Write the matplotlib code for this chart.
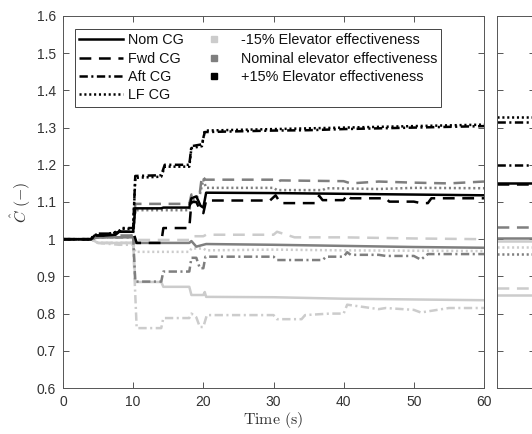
import matplotlib
matplotlib.use("Agg")
import matplotlib.pyplot as plt
from matplotlib.lines import Line2D

plt.rcParams['font.family'] = ['Liberation Sans', 'DejaVu Sans']
plt.rcParams['mathtext.fontset'] = 'cm'
plt.rcParams['lines.scale_dashes'] = False

# ---------------- data ----------------
# +15% elevator effectiveness (black)
t_nom_p = [0, 4, 4.5, 6, 7.5, 8, 10, 10.3, 14, 14.3, 18, 18.3, 19, 19.6, 20, 20.4, 30, 40, 50, 60]
c_nom_p = [1.0, 1.0, 1.01, 1.01, 1.012, 1.02, 1.02, 1.083, 1.083, 1.085, 1.085, 1.11, 1.115, 1.09, 1.085, 1.125, 1.124, 1.122, 1.12, 1.118]

t_fwd_p = [0, 4, 4.5, 7, 8, 10, 10.5, 14, 14.3, 18, 18.3, 19, 19.5, 20, 20.4, 29.5, 30.3, 31, 36, 36.5, 37, 40, 40.5, 41, 46, 46.5, 50, 51, 52, 52.5, 60]
c_fwd_p = [1.0, 1.0, 1.015, 1.015, 1.02, 1.02, 0.99, 0.99, 1.03, 1.03, 1.1, 1.1, 1.08, 1.07, 1.104, 1.104, 1.118, 1.097, 1.097, 1.117, 1.105, 1.105, 1.12, 1.11, 1.11, 1.101, 1.101, 1.097, 1.097, 1.11, 1.11]

t_aft_p = [0, 4, 4.5, 6, 7, 8, 8.3, 10, 10.3, 14, 14.5, 18, 18.3, 19.8, 20.2, 25, 30, 35, 40, 45, 50, 55, 60]
c_aft_p = [1.0, 1.0, 1.01, 1.01, 1.015, 1.02, 1.03, 1.03, 1.17, 1.172, 1.2, 1.2, 1.25, 1.255, 1.288, 1.29, 1.292, 1.293, 1.296, 1.298, 1.3, 1.302, 1.304]

t_lf_p = [0, 4, 4.5, 6, 7, 8, 8.3, 10, 10.3, 14, 14.5, 18, 18.3, 19.8, 20.2, 25, 30, 35, 40, 45, 50, 55, 60]
c_lf_p = [1.0, 1.0, 1.012, 1.012, 1.017, 1.022, 1.028, 1.028, 1.165, 1.168, 1.195, 1.195, 1.245, 1.25, 1.292, 1.294, 1.296, 1.298, 1.3, 1.302, 1.304, 1.306, 1.308]

# Nominal elevator effectiveness (medium grey)
t_nom_n = [0, 4, 5, 8, 10, 10.3, 18, 18.3, 19, 20, 20.4, 30, 40, 50, 60]
c_nom_n = [1.0, 1.0, 1.005, 1.005, 1.005, 0.99, 0.99, 0.995, 0.98, 0.985, 0.987, 0.985, 0.982, 0.979, 0.977]

t_fwd_n = [0, 4, 5, 8, 10, 10.3, 18, 18.3, 19.5, 19.8, 20.3, 30, 30.5, 31, 40, 41, 45, 50, 55, 60]
c_fwd_n = [1.0, 1.0, 1.01, 1.01, 1.01, 1.095, 1.095, 1.12, 1.125, 1.17, 1.16, 1.16, 1.152, 1.158, 1.156, 1.15, 1.155, 1.152, 1.15, 1.155]

t_aft_n = [0, 4, 5, 8, 10, 10.3, 14, 14.3, 18, 18.3, 19, 19.5, 20, 20.3, 30, 30.5, 37, 37.5, 40, 40.5, 41, 45, 46, 50, 51, 52, 60]
c_aft_n = [1.0, 1.0, 1.005, 1.005, 1.005, 0.886, 0.886, 0.913, 0.913, 0.95, 0.95, 0.922, 0.922, 0.953, 0.953, 0.944, 0.944, 0.953, 0.953, 0.965, 0.958, 0.958, 0.955, 0.955, 0.945, 0.96, 0.96]

t_lf_n = [0, 4, 5, 8, 10, 10.3, 18, 18.3, 19.5, 20, 20.4, 30, 30.5, 37, 37.5, 45, 50, 60]
c_lf_n = [1.0, 1.0, 1.005, 1.005, 1.01, 1.078, 1.078, 1.1, 1.12, 1.16, 1.138, 1.138, 1.132, 1.132, 1.137, 1.135, 1.138, 1.137]

# -15% elevator effectiveness (light grey)
t_nom_m = [0, 4, 5, 8, 10, 10.3, 14, 14.3, 18, 18.3, 20, 20.2, 20.4, 30, 40, 50, 60]
c_nom_m = [1.0, 1.0, 0.99, 0.99, 0.99, 0.885, 0.885, 0.872, 0.872, 0.85, 0.85, 0.858, 0.845, 0.844, 0.84, 0.838, 0.836]

t_fwd_m = [0, 4, 5, 8, 10, 10.3, 18, 18.3, 20, 20.4, 30, 30.5, 33, 40, 50, 60]
c_fwd_m = [1.0, 1.0, 0.99, 0.99, 0.99, 0.998, 0.998, 1.008, 1.008, 1.012, 1.012, 1.02, 1.005, 1.005, 1.002, 1.0]

t_aft_m = [0, 4, 5, 8, 10, 10.5, 14, 14.3, 18, 18.3, 19, 19.5, 20, 20.5, 30, 30.5, 34, 34.5, 38, 40, 40.5, 45, 46, 50, 51, 55, 56, 60]
c_aft_m = [1.0, 1.0, 0.99, 0.985, 0.985, 0.761, 0.761, 0.788, 0.788, 0.8, 0.79, 0.764, 0.764, 0.796, 0.796, 0.785, 0.785, 0.796, 0.8, 0.8, 0.824, 0.812, 0.815, 0.81, 0.803, 0.815, 0.815, 0.815]

t_lf_m = [0, 4, 5, 8, 10, 10.3, 18, 18.3, 20, 20.4, 30, 40, 60]
c_lf_m = [1.0, 1.0, 0.99, 0.99, 0.99, 0.966, 0.966, 0.975, 0.975, 0.97, 0.972, 0.97, 0.968]

# right-hand (partially visible) panel levels
side_black = [1.328, 1.316, 1.20, 1.151, 1.149]
side_grey = [1.034, 1.003, 0.96]
side_light = [0.995, 0.98, 0.869, 0.85]

# ---------------- styles ----------------
C_P, C_N, C_M = '#000000', '#7f7f7f', '#cccccc'
DASH = (0, (8.5, 5.5))
DASHDOT = (0, (6, 2.5, 1.5, 2.5))
DOT = (0, (1.5, 2.0))
LW = 1.8

fig = plt.figure(figsize=(5.32, 4.34), dpi=100)
ax = fig.add_axes([63/532, 46/434, 421/532, 372/434])

series = [
    (t_nom_m, c_nom_m, C_M, '-'), (t_fwd_m, c_fwd_m, C_M, DASH),
    (t_aft_m, c_aft_m, C_M, DASHDOT), (t_lf_m, c_lf_m, C_M, DOT),
    (t_nom_n, c_nom_n, C_N, '-'), (t_fwd_n, c_fwd_n, C_N, DASH),
    (t_aft_n, c_aft_n, C_N, DASHDOT), (t_lf_n, c_lf_n, C_N, DOT),
    (t_nom_p, c_nom_p, C_P, '-'), (t_fwd_p, c_fwd_p, C_P, DASH),
    (t_aft_p, c_aft_p, C_P, DASHDOT), (t_lf_p, c_lf_p, C_P, DOT),
]
for t, c, col, ls in series:
    ax.plot(t, c, color=col, linestyle=ls, linewidth=LW)

ax.set_xlim(0, 60)
ax.set_ylim(0.6, 1.6)
ax.set_xticks(range(0, 61, 10))
ax.set_yticks([0.6, 0.7, 0.8, 0.9, 1.0, 1.1, 1.2, 1.3, 1.4, 1.5, 1.6])
ax.set_yticklabels(['0.6', '0.7', '0.8', '0.9', '1', '1.1', '1.2', '1.3', '1.4', '1.5', '1.6'])
SP = '#555555'
for s in ax.spines.values():
    s.set_color(SP)
    s.set_linewidth(0.7)
ax.tick_params(direction='in', length=4, width=0.7, color=SP, labelcolor='#333333',
               labelsize=10, top=True, right=True, pad=5)
ax.set_xlabel(r'$\mathrm{Time\ (s)}$', fontsize=11.5, color='#333333', labelpad=1)
ax.set_ylabel(r'$\hat{C}\ \mathrm{(-)}$', fontsize=11.5, color='#333333', labelpad=3)

handles = [
    Line2D([], [], color='k', lw=LW, ls='-'),
    Line2D([], [], color='k', lw=LW, ls=DASH),
    Line2D([], [], color='k', lw=LW, ls=DASHDOT),
    Line2D([], [], color='k', lw=LW, ls=DOT),
    Line2D([], [], color=C_M, marker='s', ls='none', markersize=5),
    Line2D([], [], color=C_N, marker='s', ls='none', markersize=5),
    Line2D([], [], color=C_P, marker='s', ls='none', markersize=5),
    Line2D([], [], color='none', ls='none'),
]
labels = ['Nom CG', 'Fwd CG', 'Aft CG', 'LF CG',
          '-15% Elevator effectiveness', 'Nominal elevator effectiveness',
          '+15% Elevator effectiveness', '']
leg = ax.legend(handles, labels, ncol=2, loc='upper left',
                bbox_to_anchor=(12/421, 1 - 13/372), borderaxespad=0,
                fontsize=10.4, handlelength=3.0, handletextpad=0.35,
                columnspacing=0.6, labelspacing=0.3, borderpad=0.3,
                fancybox=False, framealpha=1)
leg.get_frame().set_edgecolor('#444444')
leg.get_frame().set_linewidth(0.7)
for txt in leg.get_texts():
    txt.set_color('#111111')

# partially visible second panel
ax2 = fig.add_axes([497/532, 46/434, 38/532, 372/434])
ax2.set_xlim(0, 1)
ax2.set_ylim(0.6, 1.6)
styles_b = [DOT, DASHDOT, DASHDOT, '-', DASH]
for v, ls in zip(side_black, styles_b):
    ax2.plot([0, 1], [v, v], color=C_P, ls=ls, lw=LW)
for v, ls in zip(side_grey, [DASH, '-', DOT]):
    ax2.plot([0, 1], [v, v], color=C_N, ls=ls, lw=LW)
for v, ls in zip(side_light, ['-', DOT, DASH, '-']):
    ax2.plot([0, 1], [v, v], color=C_M, ls=ls, lw=LW)
ax2.set_yticks([0.6, 0.7, 0.8, 0.9, 1.0, 1.1, 1.2, 1.3, 1.4, 1.5, 1.6])
ax2.set_xticks([])
ax2.tick_params(direction='in', length=4, width=0.7, color=SP, labelleft=False,
                right=True, labelright=False)
for s in ax2.spines.values():
    s.set_color(SP)
    s.set_linewidth(0.7)

fig.savefig('out.png', dpi=100)
